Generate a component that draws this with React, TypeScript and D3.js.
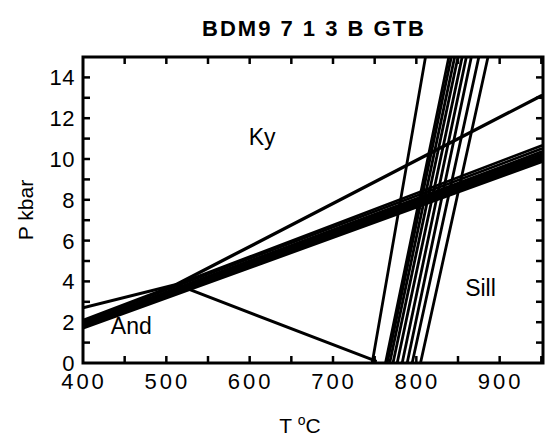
import * as d3 from "d3";

// axis ticks
const tempLabels = [400, 500, 600, 700, 800, 900];
const tempTicks = [450, 500, 550, 600, 650, 700, 750, 800, 850, 900, 950];
const pressureLabels = [0, 2, 4, 6, 8, 10, 12, 14];
const pressureTicks = [1, 2, 3, 4, 5, 6, 7, 8, 9, 10, 11, 12, 13, 14];

// Al2SiO5 triple point and boundaries [T, P]
const kyAnd = [[400, 2.7], [512, 3.85]];
const kySill = [[512, 3.85], [950, 13.1]];
const andSill = [[512, 3.85], [751, 0.1]];

// garnet-biotite (steep) lines: T at P=0 and T at P=15
const gtbT0 = [747, 763, 765, 768, 772, 777, 783, 789, 795, 805];
const gtbT15 = [811, 839, 842, 846, 850, 855, 860, 866, 875, 886];

// GASP (shallow) lines: P at 400 C and P at 950 C
const gaspP400 = [1.7, 1.75, 1.8, 1.85, 1.9, 1.95, 2.05, 2.1];
const gaspP950 = [9.85, 9.95, 10.05, 10.15, 10.25, 10.35, 10.5, 10.65];

const fieldLabels = [
  { text: "Ky", t: 615, p: 10.7 },
  { text: "Sill", t: 877, p: 3.3 },
  { text: "And", t: 458, p: 1.4 },
];

const font = "'Liberation Sans', Arial, Helvetica, sans-serif";

export default function App() {
  const width = 545;
  const height = 438;
  const left = 83;
  const right = 543;
  const top = 57;
  const bottom = 363;

  const x = d3.scaleLinear().domain([400, 952]).range([left, right]);
  const y = d3.scaleLinear().domain([0, 15]).range([bottom, top]);
  const line = d3
    .line<number[]>()
    .x((d) => x(d[0]))
    .y((d) => y(d[1]));

  const gtb = gtbT0.map((t0, i) => [
    [t0, 0],
    [gtbT15[i], 15],
  ]);
  const gasp = gaspP400.map((p0, i) => [
    [400, p0],
    [950, gaspP950[i]],
  ]);

  return (
    <svg
      width={width}
      height={height}
      style={{ position: "absolute", left: 0, top: 0, background: "#fff" }}
      fontFamily={font}
    >
      <defs>
        <clipPath id="plot">
          <rect x={left} y={top} width={right - left} height={bottom - top} />
        </clipPath>
      </defs>

      <text x={314} y={36} textAnchor="middle" fontSize={22} fontWeight="bold" letterSpacing={2}>
        BDM9 7  1 3 B GTB
      </text>

      <g clipPath="url(#plot)" fill="none" stroke="#000" strokeLinecap="round">
        {gasp.map((d, i) => (
          <path key={"g" + i} d={line(d) || ""} strokeWidth={2.7} />
        ))}
        {gtb.map((d, i) => (
          <path key={"t" + i} d={line(d) || ""} strokeWidth={2.8} />
        ))}
        <path d={line(kyAnd) || ""} strokeWidth={3} />
        <path d={line(kySill) || ""} strokeWidth={3.3} />
        <path d={line(andSill) || ""} strokeWidth={3} />
      </g>

      {/* ticks, pointing inward on all four sides */}
      <g stroke="#000" strokeWidth={2.5}>
        {tempTicks.map((t) => (
          <g key={"xt" + t}>
            <line x1={x(t)} x2={x(t)} y1={bottom} y2={bottom - 7} />
            <line x1={x(t)} x2={x(t)} y1={top} y2={top + 7} />
          </g>
        ))}
        {pressureTicks.map((p) => (
          <g key={"yt" + p}>
            <line x1={left} x2={left + 7} y1={y(p)} y2={y(p)} />
            <line x1={right} x2={right - 7} y1={y(p)} y2={y(p)} />
          </g>
        ))}
      </g>
      <rect
        x={left}
        y={top}
        width={right - left}
        height={bottom - top}
        fill="none"
        stroke="#000"
        strokeWidth={3}
      />

      {tempLabels.map((t) => (
        <text key={"xl" + t} x={x(t) + 1} y={389} textAnchor="middle" fontSize={22} letterSpacing={3}>
          {t}
        </text>
      ))}
      {pressureLabels.map((p) => (
        <text key={"yl" + p} x={75} y={y(p) + 8} textAnchor="end" fontSize={22} letterSpacing={0.5}>
          {p}
        </text>
      ))}

      {fieldLabels.map((f) => (
        <text key={f.text} x={x(f.t)} y={y(f.p)} textAnchor="middle" fontSize={23}>
          {f.text}
        </text>
      ))}

      <text x={300} y={433} textAnchor="middle" fontSize={21}>
        T <tspan fontSize={14} dy={-8}>o</tspan>
        <tspan dy={8}>C</tspan>
      </text>
      <text
        transform={`translate(33, ${(top + bottom) / 2}) rotate(-90)`}
        textAnchor="middle"
        fontSize={21}
      >
        P kbar
      </text>
    </svg>
  );
}
